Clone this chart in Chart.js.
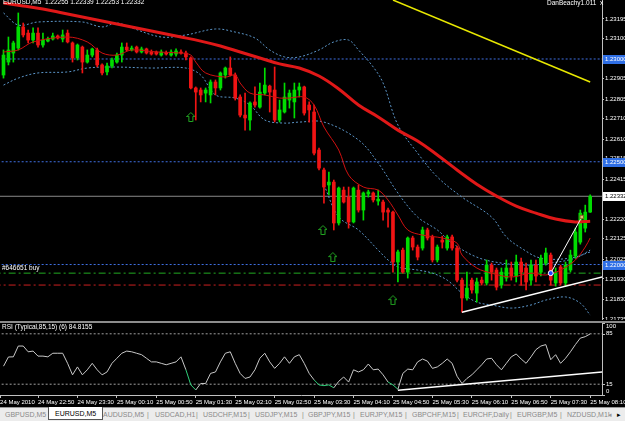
<!DOCTYPE html>
<html>
<head>
<meta charset="utf-8">
<script src="https://cdn.jsdelivr.net/npm/chart.js@4.4.1/dist/chart.umd.min.js"></script>
<style>
html,body{margin:0;padding:0;background:#000;width:625px;height:421px;overflow:hidden;font-family:"Liberation Sans",Arial,sans-serif;}
canvas{position:absolute;left:0;}
#cMain{top:0;}
#cRsi{top:323px;}
#sep{position:absolute;left:0;top:320px;width:625px;height:3px;background:#000;}
#sep div{position:absolute;left:0;top:1px;width:625px;height:2px;background:#8c8c8c;}
.txt{position:absolute;color:#fff;font-size:6.5px;line-height:8px;white-space:nowrap;}
#tabs{position:absolute;left:0;top:407px;width:625px;height:14px;background:#ececec;border-top:1px solid #9a9a9a;box-sizing:border-box;}
#tabs span{position:absolute;top:2px;font-size:7px;line-height:9px;color:#8a8a8a;white-space:nowrap;}
#tabs .act{top:-1px;height:13px;background:#fff;border:1px solid #555;border-top:none;color:#000;padding:0 6px;line-height:13px;box-sizing:border-box;}
</style>
</head>
<body>
<canvas id="cMain" width="625" height="320"></canvas>
<div id="sep"><div></div></div>
<canvas id="cRsi" width="625" height="84"></canvas>

<div class="txt" style="left:3px;top:-2px;">EURUSD,M5&nbsp; 1.22255 1.22339 1.22253 1.22332</div>
<div class="txt" style="left:547px;top:-1px;">DanBeachy1.011&nbsp;&nbsp;x</div>
<div class="txt" style="left:2px;top:264px;">#646651 buy</div>
<div class="txt" style="left:2px;top:323px;">RSI (Typical,85,15) (6) 84.8155</div>

<div id="tabs"></div>

<script>
// ---- data (5 minute bars, 24 May 22:15 .. 25 May 08:10) ----
const opens = [1.22922,1.22985,1.23029,1.23053,1.23156,1.23126,1.23092,1.23126,1.23068,1.23087,
  1.23097,1.23112,1.23097,1.23126,1.23078,1.23005,1.23058,1.22985,1.23019,1.23044,
  1.22971,1.22937,1.22966,1.22985,1.23019,1.23058,1.23044,1.23058,1.23034,1.23049,
  1.23034,1.23034,1.23019,1.23029,1.23019,1.23024,1.23034,1.23029,1.23005,1.22859,
  1.22849,1.22834,1.22825,1.22888,1.22859,1.22922,1.22956,1.22922,1.22815,1.22727,
  1.22703,1.22791,1.22766,1.22834,1.22868,1.22849,1.22703,1.22742,1.22800,1.22791,
  1.22849,1.22864,1.22776,1.22742,1.22557,1.22460,1.22387,1.22401,1.22202,1.22362,
  1.22328,1.22207,1.22362,1.22265,1.22343,1.22348,1.22309,1.22304,1.22265,1.22255,
  1.22012,1.22070,1.21963,1.22129,1.22085,1.22080,1.22168,1.22134,1.22022,1.22119,
  1.22080,1.22134,1.22080,1.21924,1.21837,1.21924,1.21861,1.21924,1.21910,1.21997,
  1.21973,1.21900,1.21934,1.21983,1.21944,1.22012,1.21983,1.21924,1.21997,1.21963,
  1.22007,1.22046,1.21910,1.21988,1.21910,1.21973,1.22041,1.22109,1.22177,1.22255];
const highs = [1.23044,1.23107,1.23087,1.23224,1.23175,1.23141,1.23151,1.23151,1.23126,1.23107,
  1.23126,1.23117,1.23141,1.23141,1.23083,1.23073,1.23063,1.23044,1.23053,1.23053,
  1.22976,1.22980,1.23005,1.23029,1.23078,1.23078,1.23063,1.23063,1.23058,1.23053,
  1.23044,1.23039,1.23044,1.23039,1.23044,1.23049,1.23044,1.23039,1.23010,1.22864,
  1.22859,1.22859,1.22898,1.22898,1.22937,1.22961,1.23010,1.22932,1.22825,1.22834,
  1.22791,1.22864,1.22883,1.22956,1.22873,1.22961,1.22800,1.22883,1.22849,1.22883,
  1.22883,1.22868,1.22791,1.22776,1.22567,1.22469,1.22450,1.22411,1.22377,1.22377,
  1.22377,1.22377,1.22387,1.22353,1.22362,1.22353,1.22362,1.22314,1.22275,1.22260,
  1.22070,1.22080,1.22134,1.22138,1.22095,1.22182,1.22177,1.22143,1.22095,1.22138,
  1.22143,1.22143,1.22090,1.21934,1.21963,1.21934,1.21934,1.21939,1.22022,1.22007,
  1.21983,1.21983,1.22022,1.22012,1.22046,1.22031,1.22007,1.22022,1.22022,1.22046,
  1.22080,1.22056,1.21983,1.21997,1.22012,1.22070,1.22177,1.22265,1.22289,1.22339];
const lows = [1.22907,1.22971,1.22985,1.23044,1.23107,1.23078,1.23078,1.23058,1.23058,1.23083,
  1.23092,1.23097,1.23083,1.23078,1.22985,1.22995,1.22932,1.22980,1.23010,1.22961,
  1.22922,1.22922,1.22956,1.22980,1.22985,1.23039,1.23039,1.23029,1.23029,1.23024,
  1.23019,1.23019,1.23014,1.23019,1.23014,1.23014,1.23024,1.22995,1.22854,1.22703,
  1.22791,1.22791,1.22786,1.22825,1.22849,1.22907,1.22917,1.22800,1.22718,1.22654,
  1.22654,1.22766,1.22761,1.22825,1.22742,1.22693,1.22693,1.22737,1.22761,1.22713,
  1.22815,1.22727,1.22693,1.22533,1.22460,1.22299,1.22338,1.22168,1.22192,1.22299,
  1.22177,1.22202,1.22255,1.22216,1.22328,1.22304,1.22289,1.22216,1.22182,1.21963,
  1.21915,1.21958,1.21934,1.22070,1.22022,1.22070,1.22119,1.22012,1.22012,1.22080,
  1.22070,1.22070,1.21915,1.21768,1.21827,1.21861,1.21817,1.21900,1.21900,1.21924,
  1.21876,1.21885,1.21919,1.21924,1.21915,1.21900,1.21876,1.21900,1.21915,1.21944,
  1.21997,1.21900,1.21895,1.21900,1.21895,1.21963,1.22031,1.22099,1.22158,1.22253];
const closes = [1.23019,1.23044,1.23078,1.23156,1.23117,1.23092,1.23126,1.23068,1.23092,1.23097,
  1.23112,1.23102,1.23117,1.23083,1.23005,1.23068,1.22985,1.23019,1.23049,1.22971,
  1.22932,1.22966,1.22995,1.23019,1.23058,1.23044,1.23053,1.23034,1.23049,1.23029,
  1.23024,1.23024,1.23034,1.23024,1.23034,1.23039,1.23029,1.23010,1.22859,1.22839,
  1.22825,1.22849,1.22888,1.22859,1.22932,1.22956,1.22922,1.22810,1.22727,1.22713,
  1.22786,1.22776,1.22839,1.22873,1.22839,1.22703,1.22752,1.22815,1.22834,1.22849,
  1.22864,1.22737,1.22752,1.22542,1.22469,1.22377,1.22401,1.22202,1.22372,1.22304,
  1.22207,1.22372,1.22265,1.22348,1.22353,1.22314,1.22318,1.22255,1.22255,1.22012,
  1.22061,1.21963,1.22129,1.22085,1.22036,1.22168,1.22129,1.22022,1.22085,1.22109,
  1.22134,1.22080,1.21924,1.21837,1.21885,1.21876,1.21915,1.21910,1.21997,1.21963,
  1.21890,1.21963,1.21983,1.21944,1.22012,1.21963,1.21915,1.21997,1.21944,1.22031,
  1.22056,1.21924,1.21963,1.21910,1.21997,1.22046,1.22158,1.22250,1.22255,1.22332];

// long moving average (thick red)
const slowIdx = [0,4,8,12,16,20,24,28,32,36,40,44,48,52,56,60,64,68,72,76,80,84,88,92,96,100,104,108,112,116,119];
const slowVal = [1.23272,1.23258,1.23243,1.23224,1.23204,1.23185,1.23165,1.23146,1.23126,1.23107,1.23087,1.23063,1.23034,1.23005,1.22976,1.22956,
  1.22917,1.22854,1.22776,1.22718,1.22654,1.22601,1.22533,1.22460,1.22391,1.22333,1.22284,1.22250,1.22221,1.22207,1.22211];
// short moving average (thin red)
const fastIdx = [0,3,6,13,17,20,23,26,31,36,38,39,41,45,47,48,50,53,56,58,61,63,65,68,70,73,76,78,80,82,85,89,92,93,96,99,103,107,110,113,116,118,119];
const fastVal = [1.23034,1.23044,1.23083,1.23107,1.23083,1.23029,1.23019,1.23044,1.23034,1.23029,1.23019,1.22985,1.22932,1.22912,1.22922,1.22883,
  1.22834,1.22825,1.22810,1.22810,1.22815,1.22776,1.22669,1.22557,1.22435,1.22377,1.22362,1.22314,1.22241,1.22168,1.22143,1.22129,1.22104,
  1.22046,1.21983,1.21958,1.21939,1.21958,1.21949,1.21973,1.22022,1.22085,1.22129];
// dotted band lines
const bandAIdx = [0,3,7,16,20,23,26,32,37,43,47,51,54,57,60,64,67,70,72,75,77,80,84,88,93,99,102,105,109,115,119];
const bandAVal = [1.23224,1.23165,1.23180,1.23180,1.23156,1.23175,1.23151,1.23107,1.23117,1.23146,1.23131,1.23102,1.23044,1.23010,1.23010,1.23044,
  1.23083,1.23092,1.23044,1.22961,1.22883,1.22679,1.22542,1.22426,1.22328,1.22231,1.22134,1.22080,1.22031,1.22031,1.22061];
const bandBIdx = [0,3,7,13,17,22,30,37,40,43,47,50,53,57,60,65,72,76,80,84,88,91,96,101,107,111,116,119];
const bandBVal = [1.22873,1.22907,1.22932,1.22937,1.22956,1.22961,1.22956,1.22956,1.22922,1.22825,1.22810,1.22776,1.22703,1.22688,1.22693,1.22693,
  1.22606,1.22494,1.22348,1.22231,1.22168,1.22104,1.22036,1.22007,1.21997,1.22007,1.22031,1.22070];
const bandCIdx = [65,68,72,76,78,80,84,87,90,93,96,99,103,107,110,114,117,119];
const bandCVal = [1.22387,1.22231,1.22168,1.22070,1.22022,1.21988,1.21973,1.21958,1.21924,1.21861,1.21817,1.21803,1.21788,1.21803,1.21827,1.21842,1.21812,1.21754];

// drawn objects
const roundLevels = [1.23000, 1.22500, 1.22000];
const bidPrice = 1.22332;
const buyPrice = 1.21958;
const stopPrice = 1.21900;
const yellowIdx = [79, 119], yellowVal = [1.23287, 1.22888];
const supportIdx = [93, 122], supportVal = [1.21768, 1.21943];
const tradeIdx = [111, 117.3], tradeVal = [1.21958, 1.22231];
const arrowIdx = [38, 64.8, 66.8, 79], arrowVal = [1.22718, 1.22168, 1.22036, 1.21827];

// RSI(6), one value per bar
const rsi = [40,52.8,53,68,68,60,61,54,54,53, 58,58,58,44,28,39,28,35,44,35,
  28,32,44,51,58,61,60,58,56,51, 46,46,44,42,44,46,53,35,14,7,
  16,16,30,32,46,58,60,44,30,23, 25,35,51,58,46,37,44,53,44,53,
  56,44,30,21,14,13,14,10,19,25, 18,35,32,35,43,35,36,28,18,14,
  8,30,36,35,46,50,47,37,39,44, 50,44,26,16,23,28,35,42,50,51,
  42,35,44,53,57,50,44,53,63,68, 70,49,56,44,51,60,70,79,81,84.8155];
const rsiLevels = [85, 15];
const rsiAxis = [100, 85, 15, 0];
const rsiTrendIdx = [80, 122], rsiTrendVal = [6.6, 32.2];

// axes
const priceTicks = [1.23195,1.23100,1.22905,1.22805,1.22710,1.22610,1.22515,1.22415,1.22220,1.22125,1.22025,1.21930,1.21830,1.21735];
const timeIdx = [-0.7,7,15,23,31,39,47,55,63,71,79,87,95,103,111,119];
const timeLabels = ['24 May 2010','24 May 22:50','24 May 23:30','25 May 00:10','25 May 00:50','25 May 01:30','25 May 02:10','25 May 02:50',
  '25 May 03:30','25 May 04:10','25 May 04:50','25 May 05:30','25 May 06:10','25 May 06:50','25 May 07:30','25 May 08:10'];
const tabs = ['GBPUSD,M5','EURUSD,M5','AUDUSD,M5','USDCAD,H1','USDCHF,M15','USDJPY,M15','GBPJPY,M15','EURJPY,M15','GBPCHF,M15','EURCHF,Daily','EURGBP,M5','NZDUSD,M1!'];

const X_MIN = -0.71, X_MAX = 121.4;
const FONT = '"Liberation Sans", Arial, sans-serif';
const BULL = '#00dc00', BEAR = '#f01414';

function pts(idx, vals) { return idx.map((x, k) => ({x: x, y: vals[k]})); }
function hline(v) { return [{x: -2, y: v}, {x: 124, y: v}]; }

function arrowImg() {
  const c = document.createElement('canvas');
  c.width = 9; c.height = 10;
  const g = c.getContext('2d');
  g.strokeStyle = '#22a822'; g.lineWidth = 1;
  g.beginPath();
  g.moveTo(4.5, 0.5); g.lineTo(8.5, 4.5); g.lineTo(6.5, 4.5); g.lineTo(6.5, 9.5);
  g.lineTo(2.5, 9.5); g.lineTo(2.5, 4.5); g.lineTo(0.5, 4.5); g.closePath();
  g.stroke();
  return c;
}

const candleCol = closes.map((c, i) => c >= opens[i] ? BULL : BEAR);
const bars = opens.map((o, i) => i);

function lineDs(data, color, width, order, extra) {
  return Object.assign({type: 'line', data: data, borderColor: color, borderWidth: width,
    pointRadius: 0, fill: false, tension: 0, order: order}, extra || {});
}

const priceBoxes = {
  id: 'priceBoxes',
  afterDraw(chart) {
    const ys = chart.scales.y, ctx = chart.ctx;
    ctx.save();
    ctx.font = '6px ' + FONT;
    ctx.textBaseline = 'middle';
    roundLevels.forEach(v => {
      const py = Math.round(ys.getPixelForValue(v));
      ctx.fillStyle = '#2f6fe6';
      ctx.fillRect(ys.left + 1, py - 4, 22, 9);
      ctx.fillStyle = '#fff';
      ctx.fillText(v.toFixed(5), ys.left + 3, py + 0.5);
    });
    const pb = Math.round(ys.getPixelForValue(bidPrice));
    ctx.fillStyle = '#fff';
    ctx.fillRect(ys.left + 1, pb - 4, 22, 9);
    ctx.fillStyle = '#000';
    ctx.fillText(bidPrice.toFixed(5), ys.left + 3, pb + 0.5);
    ctx.restore();
  }
};

const rsiLabels = {
  id: 'rsiLabels',
  afterDraw(chart) {
    const ys = chart.scales.y, ctx = chart.ctx;
    ctx.save();
    ctx.font = '6px ' + FONT;
    ctx.textBaseline = 'middle';
    ctx.fillStyle = '#fff';
    ctx.strokeStyle = '#c0c0c0';
    rsiAxis.forEach(v => {
      const py = ys.getPixelForValue(v);
      const ly = Math.min(Math.max(py, ys.top + 3.5), ys.bottom - 3.5);
      ctx.beginPath(); ctx.moveTo(ys.left, Math.round(py) + 0.5); ctx.lineTo(ys.left + 3, Math.round(py) + 0.5); ctx.stroke();
      ctx.fillText(String(v), ys.left + 4, ly);
    });
    ctx.restore();
  }
};

new Chart(document.getElementById('cMain'), {
  type: 'line',
  data: {
    datasets: [
      lineDs(pts(arrowIdx, arrowVal), '#22a822', 0, 1, {showLine: false, pointRadius: 5, pointStyle: arrowImg()}),
      lineDs([{x: tradeIdx[0], y: tradeVal[0]}], '#fff', 0, 1, {showLine: false, pointRadius: 2.5, pointStyle: 'circle', pointBackgroundColor: '#2040ff', pointBorderColor: '#fff', pointBorderWidth: 1}),
      lineDs([{x: tradeIdx[1], y: tradeVal[1]}], '#000', 0, 1, {showLine: false, pointRadius: 2.5, pointStyle: 'rect', pointBackgroundColor: '#d8c070', pointBorderColor: '#806020', pointBorderWidth: 1}),
      lineDs(pts(tradeIdx, tradeVal), '#ffffff', 1, 2),
      lineDs(pts(supportIdx, supportVal), '#ffffff', 1.5, 3),
      lineDs(pts(yellowIdx, yellowVal), '#e8e800', 1.5, 3),
      lineDs(pts(slowIdx, slowVal), '#e01818', 3, 5, {tension: 0.4}),
      lineDs(pts(fastIdx, fastVal), '#d01010', 1, 6, {tension: 0.35}),
      {type: 'bar', data: bars.map(i => ({x: i, y: [opens[i], closes[i]]})), backgroundColor: candleCol,
        barThickness: 3, minBarLength: 1, grouped: false, borderWidth: 0, order: 10},
      {type: 'bar', data: bars.map(i => ({x: i, y: [lows[i], highs[i]]})), backgroundColor: candleCol,
        barThickness: 1, grouped: false, borderWidth: 0, order: 11},
      lineDs(pts(bandAIdx, bandAVal), '#5b95c8', 1, 14, {tension: 0.35, borderDash: [2, 2]}),
      lineDs(pts(bandBIdx, bandBVal), '#5b95c8', 1, 14, {tension: 0.35, borderDash: [2, 2]}),
      lineDs(pts(bandCIdx, bandCVal), '#5b95c8', 1, 14, {tension: 0.35, borderDash: [2, 2]}),
      lineDs(hline(bidPrice), '#8a8a8a', 1, 18),
      lineDs(hline(buyPrice), '#22aa22', 1, 17, {borderDash: [7, 3, 2, 3]}),
      lineDs(hline(stopPrice), '#cc2020', 1, 17, {borderDash: [7, 3, 2, 3]}),
      ...roundLevels.map(v => lineDs(hline(v), '#3f6fe0', 1, 19, {borderDash: [2, 2]}))
    ]
  },
  options: {
    responsive: false, animation: false, devicePixelRatio: 1,
    layout: {padding: 0, autoPadding: false},
    plugins: {legend: {display: false}, tooltip: {enabled: false}},
    scales: {
      x: {type: 'linear', min: X_MIN, max: X_MAX, offset: false, display: false},
      y: {
        type: 'linear', position: 'right', min: 1.21730, max: 1.23287,
        afterBuildTicks: s => { s.ticks = priceTicks.map(v => ({value: v})); },
        afterFit: s => { s.width = 23; s.paddingTop = 0; s.paddingBottom = 0; },
        ticks: {color: '#fff', font: {size: 6, family: FONT}, padding: 1, autoSkip: false,
          callback: v => Number(v).toFixed(5)},
        grid: {display: true, drawOnChartArea: false, drawTicks: true, tickLength: 2, color: '#c0c0c0'},
        border: {display: true, color: '#c0c0c0'}
      }
    }
  },
  plugins: [priceBoxes]
});

new Chart(document.getElementById('cRsi'), {
  type: 'line',
  data: {
    datasets: [
      lineDs(pts(rsiTrendIdx, rsiTrendVal), '#ffffff', 1.5, 1),
      lineDs(rsi.map((v, i) => ({x: i, y: v})), '#c8c8c8', 1, 2, {
        segment: {borderColor: c => c.p1.parsed.y < 15 ? '#2fd07a' : '#c8c8c8'}}),
      ...rsiLevels.map(v => lineDs(hline(v), '#a0a0a0', 1, 5, {borderDash: [2, 2]}))
    ]
  },
  options: {
    responsive: false, animation: false, devicePixelRatio: 1,
    layout: {padding: 0, autoPadding: false},
    plugins: {legend: {display: false}, tooltip: {enabled: false}},
    scales: {
      x: {
        type: 'linear', min: X_MIN, max: X_MAX, offset: false, position: 'bottom',
        afterBuildTicks: s => { s.ticks = timeIdx.map(v => ({value: v})); },
        afterFit: s => { s.height = 12; s.paddingLeft = 0; s.paddingRight = 0; },
        ticks: {color: '#fff', font: {size: 6, family: FONT}, align: 'start', maxRotation: 0, autoSkip: false, padding: 1,
          callback: (v, i) => timeLabels[i]},
        grid: {display: true, drawOnChartArea: false, drawTicks: true, tickLength: 3, color: '#c0c0c0'},
        border: {display: true, color: '#c0c0c0'}
      },
      y: {
        type: 'linear', position: 'right', min: 0, max: 100,
        afterFit: s => { s.width = 23; s.paddingTop = 0; s.paddingBottom = 0; },
        ticks: {display: false},
        grid: {display: false},
        border: {display: true, color: '#c0c0c0'}
      }
    }
  },
  plugins: [rsiLabels]
});

// symbol tabs along the bottom
const tabX = [5, 48, 103, 155, 203, 255, 308, 360, 412, 463, 517, 567];
const sepX = [147, 196, 248, 302, 353, 405, 457, 510, 560];
const tabBar = document.getElementById('tabs');
tabs.forEach((t, k) => {
  const s = document.createElement('span');
  s.textContent = t;
  s.style.left = tabX[k] + 'px';
  if (k === 1) s.className = 'act';
  tabBar.appendChild(s);
});
sepX.forEach(x => {
  const s = document.createElement('span');
  s.textContent = '|';
  s.style.left = x + 'px';
  tabBar.appendChild(s);
});
['\u25C2', '\u25B8'].forEach((a, k) => {
  const s = document.createElement('span');
  s.textContent = a;
  s.style.left = (608 + k * 9) + 'px';
  s.style.color = k ? '#000' : '#999';
  tabBar.appendChild(s);
});
</script>
</body>
</html>
